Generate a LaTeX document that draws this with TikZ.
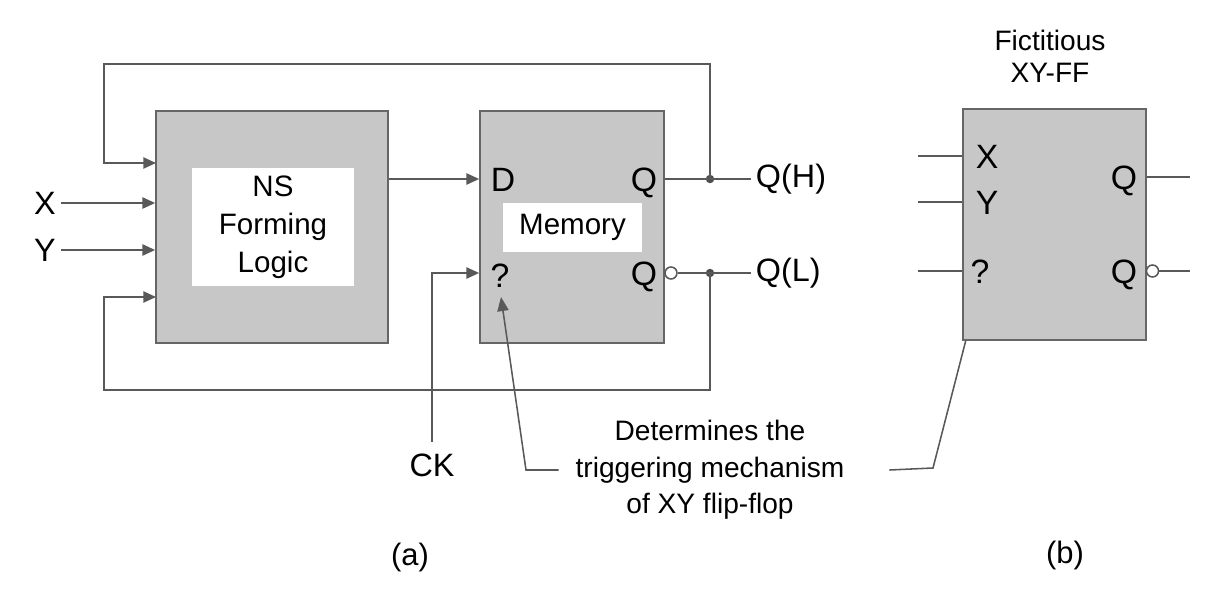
\documentclass[tikz,border=0pt]{standalone}
\usepackage{fontspec}
\setmainfont{Liberation Sans}
\usetikzlibrary{arrows.meta,positioning}
\begin{document}
\begin{tikzpicture}[x=0.025cm, y=-0.025cm,
  blkbox/.style={draw=black!60, fill=black!22, line width=1.2pt, inner sep=0pt},
  wire/.style={draw=black!65, line width=1.1pt},
  arr/.style={wire, -{Triangle[length=9pt,width=8pt]}},
  lbl/.style={font=\fontsize{23}{27}\selectfont},
  pinlbl/.style={font=\fontsize{24}{28}\selectfont, inner sep=0pt, anchor=base},
  notetext/.style={font=\fontsize{20}{26}\selectfont, align=center},
  bubble/.style={circle, draw=black!65, fill=white, line width=1.1pt, inner sep=0pt, minimum size=0.3cm},
  jdot/.style={circle, fill=black!70, inner sep=0pt, minimum size=6pt}]
  \useasboundingbox (0,0) rectangle (1206,593);

  % Nodes (a)
  \node[blkbox, minimum width=5.8cm, minimum height=5.8cm] (ns) at (272,227) {};
  \node[fill=white, minimum width=4.05cm, minimum height=2.95cm, align=center, font=\fontsize{21}{27}\selectfont] (nslbl) at (273,227) {NS\\Forming\\Logic};
  \node[blkbox, minimum width=4.6cm, minimum height=5.8cm] (mem) at (572,227) {};
  \node[fill=white, minimum width=3.475cm, minimum height=1.225cm, font=\fontsize{21}{25}\selectfont] (memlbl) at (572.5,227.5) {Memory};
  \node[pinlbl] (md) at (503,191) {D};
  \node[pinlbl] (mq) at (644,191) {Q};
  \node[pinlbl] (mck) at (500,287) {?};
  \node[pinlbl] (mqb) at (644,285) {Q};
  \node[bubble] (mbub) at (671,273) {};

  \node[lbl] (inx) at (45,203) {X};
  \node[lbl] (iny) at (45,250) {Y};
  \node[lbl, outer sep=5pt] (ck) at (432,465) {CK};
  \node[lbl, anchor=west] (qh) at (751,179) {Q(H)};
  \node[lbl, anchor=west] (ql) at (751,273) {Q(L)};
  \node[notetext] (trig) at (710,470) {Determines the\\triggering mechanism\\of XY flip-flop};

  \coordinate (jh) at (710,179);
  \coordinate (jl) at (710,273);
  \coordinate (ftop) at (104,64);
  \coordinate (fbot) at (104,390);
  \coordinate (in1) at (156,163);
  \coordinate (in4) at (156,297);
  \node[jdot] (dh) at (jh) {};
  \node[jdot] (dl) at (jl) {};

  % Edges (a)
  \draw[arr] (inx) -- (ns.west |- inx);
  \draw[arr] (iny) -- (ns.west |- iny);
  \draw[arr] (ns.east |- jh) -- (mem.west |- jh);
  \draw[arr] (ck.north) |- (mem.west |- jl);
  \draw[wire] (mem.east |- jh) -- (qh.west);
  \draw[wire] (mbub.east) -- (ql.west);
  \draw[arr] (jh) |- (ftop) |- (in1);
  \draw[arr] (jl) |- (fbot) |- (in4);

  % Note arrows
  \coordinate (bl) at (526,470);
  \coordinate (tipa) at (501,297);
  \coordinate (br) at (933,468);
  \coordinate (tipb) at (978,293);
  \draw[wire, -{Triangle[length=10pt,width=8pt]}] ([xshift=-0.3cm]trig.west) -- (bl) -- (tipa);
  \draw[wire, -{Triangle[length=10pt,width=8pt]}] ([xshift=1cm]trig.east) -- (br) -- (tipb);

  % Nodes (b)
  \node[notetext, font=\fontsize{20}{23}\selectfont] (fftitle) at (1050,56) {Fictitious\\XY-FF};
  \node[blkbox, minimum width=4.575cm, minimum height=5.775cm] (ff) at (1054.5,224.5) {};
  \node[pinlbl] (ffx) at (987,168) {X};
  \node[pinlbl] (ffy) at (987,214) {Y};
  \node[pinlbl] (ffc) at (980,283) {?};
  \node[pinlbl] (ffq) at (1124,189) {Q};
  \node[pinlbl] (ffqb) at (1124,283) {Q};
  \node[bubble] (ffbub) at (1152.5,271) {};
  \coordinate (ffin1) at (918,156);
  \coordinate (ffin2) at (918,202);
  \coordinate (ffin3) at (918,271);
  \coordinate (ffout1) at (1190,177);
  \coordinate (ffout2) at (1190,271);

  % Edges (b)
  \foreach \p in {ffin1, ffin2, ffin3}
    \draw[wire] (\p) -- (ff.west |- \p);
  \draw[wire] (ff.east |- ffout1) -- (ffout1);
  \draw[wire] (ffbub.east) -- (ffout2);

  % Captions
  \node[lbl, font=\fontsize{22}{26}\selectfont] (capa) at (410,557) {(a)};
  \node[lbl, font=\fontsize{22}{26}\selectfont] (capb) at (1065,555) {(b)};
\end{tikzpicture}
\end{document}
